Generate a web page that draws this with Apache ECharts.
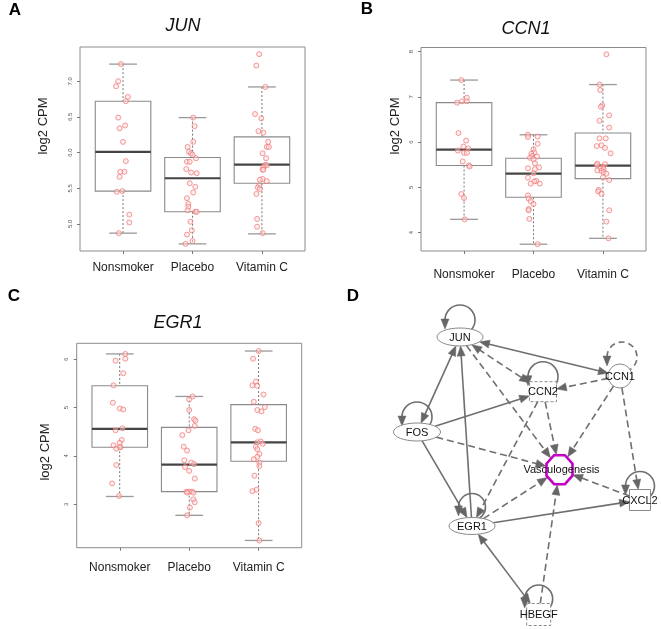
<!DOCTYPE html>
<html><head><meta charset="utf-8">
<script src="https://cdn.jsdelivr.net/npm/echarts@6/dist/echarts.min.js"></script>
<style>html,body{margin:0;padding:0;background:#fff}#c{width:661px;height:629px}</style>
</head><body><div id="c"></div>
<script>
const categories = ['Nonsmoker', 'Placebo', 'Vitamin C'];

// box statistics per group: [lower whisker, Q1, median, Q3, upper whisker]
const junStats  = [[4.87, 5.46, 6.01, 6.72, 7.24], [4.72, 5.17, 5.64, 5.93, 6.49], [4.86, 5.57, 5.83, 6.22, 6.92]];
const ccn1Stats = [[4.29, 5.48, 5.83, 6.87, 7.37], [3.74, 4.78, 5.30, 5.64, 6.16], [3.87, 5.19, 5.48, 6.20, 7.27]];
const egr1Stats = [[3.16, 4.18, 4.56, 5.45, 6.11], [2.77, 3.26, 3.82, 4.59, 5.23], [2.25, 3.89, 4.28, 5.06, 6.17]];

// individual sample values (log2 CPM) and their horizontal jitter (category units)
const junNonsmoker = [7.24,7.00,6.93,6.78,6.72,6.49,6.38,6.34,6.15,5.88,5.73,5.73,5.66,5.46,5.45,5.13,5.02,4.87];
const junNonsmokerJit = [-0.03,-0.07,-0.10,0.07,0.04,-0.07,0.03,-0.05,0,0.04,0.02,-0.04,-0.05,-0.01,-0.09,0.09,0.09,-0.06];
const junPlacebo = [6.49,6.37,6.15,6.08,6.01,5.99,5.97,5.92,5.87,5.87,5.77,5.72,5.71,5.57,5.52,5.44,5.36,5.28,5.24,5.19,5.17,5.17,5.03,4.91,4.85,4.76,4.72];
const junPlaceboJit = [0.01,0.03,0.01,-0.07,-0.05,-0.02,0,0.05,-0.08,-0.04,-0.09,-0.02,0.06,-0.04,0.04,0.01,-0.08,-0.06,-0.06,-0.07,0.04,0.06,-0.03,-0.01,-0.08,0,-0.10];
const junVitC = [7.38,7.22,6.92,6.54,6.48,6.30,6.28,6.15,6.08,6.08,5.99,5.92,5.83,5.82,5.80,5.76,5.76,5.63,5.62,5.60,5.54,5.51,5.49,5.42,5.07,4.96,4.87];
const junVitCJit = [-0.04,-0.08,0.05,-0.10,-0.01,-0.05,0.02,0.09,0.07,0.10,0.01,0.06,0.05,0.07,0.02,0.01,0.02,0.01,-0.03,0.07,-0.04,-0.06,-0.03,-0.08,-0.07,-0.07,0.01];

const ccn1Nonsmoker = [7.37,6.87,6.90,6.98,6.90,6.20,6.03,5.90,5.86,5.81,5.76,5.76,5.57,5.48,5.46,4.85,4.76,4.29];
const ccn1NonsmokerJit = [-0.04,-0.10,-0.03,0.04,0.04,-0.08,0.03,-0.01,0.06,-0.09,0,0.04,-0.02,0.07,0.08,-0.04,0,0.01];
const ccn1Placebo = [6.16,6.12,6.11,5.96,5.84,5.77,5.74,5.69,5.68,5.65,5.62,5.53,5.44,5.42,5.40,5.31,5.21,5.14,5.13,5.08,5.08,4.82,4.75,4.69,4.63,4.52,4.49,4.30,3.74];
const ccn1PlaceboJit = [-0.08,0.06,-0.08,0.06,0,0.01,-0.03,-0.02,0.05,-0.05,0,0.02,0.08,-0.08,0.02,0,-0.08,0.04,0.01,-0.04,0.09,-0.08,-0.07,-0.04,0,-0.07,-0.07,-0.06,0.06];
const ccn1VitC = [7.94,7.27,7.15,6.81,6.78,6.59,6.47,6.32,6.08,6.08,5.93,5.91,5.87,5.75,5.52,5.51,5.49,5.44,5.42,5.40,5.37,5.36,5.33,5.30,5.22,5.16,4.94,4.91,4.85,4.49,4.24,3.87];
const ccn1VitCJit = [0.05,-0.05,-0.04,-0.01,-0.03,0.09,-0.05,0.09,-0.05,0.04,-0.02,-0.09,0.03,0.11,-0.08,0.03,-0.09,0,-0.03,0.01,-0.08,-0.02,0.01,0.05,0,0.09,-0.06,-0.07,-0.02,0.09,0.05,0.08];

const egr1Nonsmoker = [6.11,6.01,5.97,5.71,5.46,5.10,4.98,4.96,4.57,4.53,4.33,4.27,4.22,4.18,4.18,4.15,3.81,3.43,3.17];
const egr1NonsmokerJit = [0.08,0.08,-0.06,0.05,-0.09,-0.10,0,0.05,0.04,-0.06,0.03,0,-0.09,0.01,0,-0.05,-0.05,-0.11,-0.01];
const egr1Placebo = [5.23,5.17,4.95,4.76,4.73,4.62,4.53,4.43,4.19,4.11,3.91,3.86,3.83,3.77,3.69,3.53,3.26,3.26,3.26,3.24,3.24,3.10,3.04,2.93,2.77];
const egr1PlaceboJit = [0.05,0,0,0.07,0.09,0.08,-0.01,-0.10,-0.08,-0.03,-0.07,0.03,0.07,-0.06,0,0.08,-0.04,0,0.04,0.06,-0.03,0.06,0.08,0.01,-0.03];
const egr1VitC = [6.17,6.01,5.54,5.46,5.45,5.27,5.12,5.01,4.95,4.92,4.56,4.53,4.30,4.28,4.25,4.19,4.14,4.04,3.98,3.93,3.86,3.79,3.59,3.30,3.27,2.61,2.25];
const egr1VitCJit = [0,-0.08,-0.04,-0.09,-0.02,0.07,-0.07,0.09,-0.02,0.04,-0.05,-0.01,0.03,-0.02,0.06,-0.04,-0.02,0.01,-0.02,-0.07,0.01,0.01,-0.06,-0.03,-0.09,0,0.01];

// y tick labels
const junTicks = [5.0, 5.5, 6.0, 6.5, 7.0];
const ccn1Ticks = [4, 5, 6, 7, 8];
const egr1Ticks = [3, 4, 5, 6];

// network (panel D)
const nodeNames = ['JUN', 'CCN1', 'CCN2', 'FOS', 'Vasculogenesis', 'CXCL2', 'EGR1', 'HBEGF'];
const nodeX = [460, 620, 543, 417, 559.5, 640, 472, 538.7];
const nodeY = [337, 376, 391.7, 432, 469.7, 500, 526, 614.5];
const edgeFrom = ['JUN','JUN','JUN','FOS','EGR1','FOS','FOS','FOS','CCN1','CCN1','CCN1','CCN2','CCN2','EGR1','EGR1','CXCL2','EGR1','HBEGF'];
const edgeTo   = ['CCN1','CCN2','Vasculogenesis','JUN','JUN','CCN2','Vasculogenesis','EGR1','CCN2','Vasculogenesis','CXCL2','Vasculogenesis','EGR1','Vasculogenesis','CXCL2','Vasculogenesis','HBEGF','Vasculogenesis'];
const edgeDashed = [0,1,1,0,0,0,1,0,1,1,1,1,1,1,0,1,0,1];
const edgeBoth   = [1,1,0,1,0,0,0,0,0,0,0,0,0,0,0,0,1,0];
const selfLoops = ['JUN', 'CCN1', 'CCN2', 'FOS', 'EGR1', 'CXCL2', 'HBEGF'];
const selfLoopDashed = [0, 1, 0, 0, 0, 0, 0];

// ---------- styles ----------
const nodeStyle = {
  'JUN': {t: 'ellipse', rx: 23, ry: 9},
  'CCN1': {t: 'circle', r: 12},
  'CCN2': {t: 'rect', hw: 13.5, hh: 10, dash: true},
  'FOS': {t: 'ellipse', rx: 23.5, ry: 9},
  'Vasculogenesis': {t: 'oct', rx: 13, ry: 14.5},
  'CXCL2': {t: 'rect', hw: 10.5, hh: 10.5},
  'EGR1': {t: 'ellipse', rx: 23, ry: 8.5},
  'HBEGF': {t: 'rect', hw: 12, hh: 11, dash: true}
};
const loopStyle = {
  'JUN': [0, -17, 15], 'CCN1': [2, -19, 15], 'CCN2': [0, -15, 15], 'FOS': [0, -15, 15],
  'EGR1': [0, -19, 13.5], 'CXCL2': [0, -14, 14.5], 'HBEGF': [0, -15.5, 14]
};
const EDGE = '#6f6f6f';

const panels = [
  {title: 'JUN', letter: 'A', stats: junStats, vals: [junNonsmoker, junPlacebo, junVitC], jit: [junNonsmokerJit, junPlaceboJit, junVitCJit],
   ticks: junTicks, dec: 1, ymin: 4.62, ymax: 7.48, grid: {left: 80, top: 47, width: 225, height: 204}, lm: 11,
   titlePos: [183, 26], letterPos: [15, 10], ylabPos: [43, 126]},
  {title: 'CCN1', letter: 'B', stats: ccn1Stats, vals: [ccn1Nonsmoker, ccn1Placebo, ccn1VitC], jit: [ccn1NonsmokerJit, ccn1PlaceboJit, ccn1VitCJit],
   ticks: ccn1Ticks, dec: 0, ymin: 3.59, ymax: 8.09, grid: {left: 421, top: 47.5, width: 225, height: 203.5}, lm: 18,
   titlePos: [526, 29], letterPos: [367, 9], ylabPos: [395, 126]},
  {title: 'EGR1', letter: 'C', stats: egr1Stats, vals: [egr1Nonsmoker, egr1Placebo, egr1VitC], jit: [egr1NonsmokerJit, egr1PlaceboJit, egr1VitCJit],
   ticks: egr1Ticks, dec: 0, ymin: 2.10, ymax: 6.33, grid: {left: 76.7, top: 343.3, width: 225, height: 204.4}, lm: 14,
   titlePos: [178, 323], letterPos: [14, 296], ylabPos: [45, 452]}
];

function boxRender(params, api) {
  const i = api.value(0);
  const lo = api.coord([i, api.value(1)]), q1 = api.coord([i, api.value(2)]), md = api.coord([i, api.value(3)]),
        q3 = api.coord([i, api.value(4)]), hi = api.coord([i, api.value(5)]);
  const bl = api.coord([i - 0.4, 0])[0], br = api.coord([i + 0.4, 0])[0];
  const cl = api.coord([i - 0.2, 0])[0], cr = api.coord([i + 0.2, 0])[0];
  const x = md[0];
  const wh = {stroke: '#555', lineWidth: 0.8, lineDash: [2, 2]};
  const cap = {stroke: '#9a9a9a', lineWidth: 1.3};
  return {type: 'group', children: [
    {type: 'line', shape: {x1: x, y1: hi[1], x2: x, y2: q3[1]}, style: wh},
    {type: 'line', shape: {x1: x, y1: q1[1], x2: x, y2: lo[1]}, style: wh},
    {type: 'line', shape: {x1: cl, y1: hi[1], x2: cr, y2: hi[1]}, style: cap},
    {type: 'line', shape: {x1: cl, y1: lo[1], x2: cr, y2: lo[1]}, style: cap},
    {type: 'rect', shape: {x: bl, y: q3[1], width: br - bl, height: q1[1] - q3[1]}, style: {fill: 'none', stroke: '#8a8a8a', lineWidth: 1.1}},
    {type: 'line', shape: {x1: bl, y1: md[1], x2: br, y2: md[1]}, style: {stroke: '#444', lineWidth: 2.2}}
  ]};
}

const grids = [], xAxes = [], yAxes = [], series = [], graphics = [];
panels.forEach((p, g) => {
  grids.push(Object.assign({show: true, borderColor: '#8c8c8c', borderWidth: 1, backgroundColor: 'transparent'}, p.grid));
  xAxes.push({gridIndex: g, type: 'value', min: 0.38, max: 3.62, axisLine: {show: false}, splitLine: {show: false},
    axisTick: {show: true, customValues: [1, 2, 3], length: 3, lineStyle: {color: '#777'}},
    axisLabel: {customValues: [1, 2, 3], formatter: v => categories[Math.round(v) - 1], fontSize: 12, color: '#222',
      fontFamily: 'Liberation Sans', margin: p.lm}});
  yAxes.push({gridIndex: g, type: 'value', min: p.ymin, max: p.ymax, axisLine: {show: false}, splitLine: {show: false},
    axisTick: {show: true, customValues: p.ticks, length: 3, lineStyle: {color: '#777'}},
    axisLabel: {customValues: p.ticks, rotate: 90, fontSize: 6, color: '#555', margin: 7,
      formatter: v => Number(v).toFixed(p.dec)}});
  series.push({type: 'custom', xAxisIndex: g, yAxisIndex: g, renderItem: boxRender, silent: true, z: 2,
    encode: {x: 0, y: [1, 2, 3, 4, 5]}, data: p.stats.map((s, i) => [i + 1].concat(s))});
  const pts = [];
  p.vals.forEach((arr, i) => arr.forEach((v, k) => pts.push([i + 1 + p.jit[i][k], v])));
  series.push({type: 'scatter', xAxisIndex: g, yAxisIndex: g, data: pts, symbolSize: 5, silent: true, z: 3,
    itemStyle: {color: 'rgba(255,220,220,0.6)', borderColor: '#ee7272', borderWidth: 0.9}});
  graphics.push({type: 'text', x: p.titlePos[0], y: p.titlePos[1], style: {text: p.title, align: 'center', verticalAlign: 'middle',
    font: 'italic 18px "Liberation Sans", Arial', fill: '#111'}});
  graphics.push({type: 'text', x: p.letterPos[0], y: p.letterPos[1], style: {text: p.letter, align: 'center', verticalAlign: 'middle',
    font: 'bold 17px "Liberation Sans", Arial', fill: '#000'}});
  graphics.push({type: 'text', x: p.ylabPos[0], y: p.ylabPos[1], rotation: Math.PI / 2, style: {text: 'log2 CPM', align: 'center',
    verticalAlign: 'middle', font: '13px "Liberation Sans", Arial', fill: '#222'}});
});
graphics.push({type: 'text', x: 353, y: 296, style: {text: 'D', align: 'center', verticalAlign: 'middle',
  font: 'bold 17px "Liberation Sans", Arial', fill: '#000'}});

// ---------- network ----------
const G = 3;
grids.push({left: 330, top: 300, width: 331, height: 329, show: false});
xAxes.push({gridIndex: G, type: 'value', min: 330, max: 661, show: false});
yAxes.push({gridIndex: G, type: 'value', min: 300, max: 629, inverse: true, show: false});

function boundary(name, ux, uy) {
  const s = nodeStyle[name];
  if (s.t === 'circle') return s.r;
  if (s.t === 'rect') return Math.min(s.hw / Math.max(Math.abs(ux), 1e-6), s.hh / Math.max(Math.abs(uy), 1e-6));
  const rx = s.t === 'oct' ? s.rx + 1 : s.rx, ry = s.t === 'oct' ? s.ry + 1 : s.ry;
  return 1 / Math.sqrt((ux / rx) ** 2 + (uy / ry) ** 2);
}
function arrowHead(tx, ty, ux, uy, L, w) {
  const bx = tx - ux * L, by = ty - uy * L;
  return {type: 'polygon', shape: {points: [[tx, ty], [bx - uy * w, by + ux * w], [bx + uy * w, by - ux * w]]},
    style: {fill: '#666', stroke: '#666', lineWidth: 0.5}};
}
const idx = n => nodeNames.indexOf(n);
const edgeData = edgeFrom.map((f, k) => {
  const a = idx(f), b = idx(edgeTo[k]);
  return [nodeX[a], nodeY[a], nodeX[b], nodeY[b], a, b, edgeDashed[k], edgeBoth[k]];
});
series.push({type: 'custom', xAxisIndex: G, yAxisIndex: G, silent: true, z: 4, encode: {x: [0, 2], y: [1, 3]}, data: edgeData,
  renderItem: (params, api) => {
    const p1 = api.coord([api.value(0), api.value(1)]), p2 = api.coord([api.value(2), api.value(3)]);
    const a = nodeNames[api.value(4)], b = nodeNames[api.value(5)];
    const dashed = api.value(6) === 1, both = api.value(7) === 1;
    const dx = p2[0] - p1[0], dy = p2[1] - p1[1], len = Math.hypot(dx, dy);
    const ux = dx / len, uy = dy / len;
    const L = 10, W = 4;
    const da = boundary(a, ux, uy), db = boundary(b, -ux, -uy);
    const s = [p1[0] + ux * da, p1[1] + uy * da], e = [p2[0] - ux * db, p2[1] - uy * db];
    const ls = both ? [s[0] + ux * L * 0.8, s[1] + uy * L * 0.8] : s;
    const le = [e[0] - ux * L * 0.8, e[1] - uy * L * 0.8];
    const ch = [
      {type: 'line', shape: {x1: ls[0], y1: ls[1], x2: le[0], y2: le[1]},
        style: {stroke: EDGE, lineWidth: 1.6, lineDash: dashed ? [7, 4] : null}},
      arrowHead(e[0], e[1], ux, uy, L, W)
    ];
    if (both) ch.push(arrowHead(s[0], s[1], -ux, -uy, L, W));
    return {type: 'group', children: ch};
  }});

series.push({type: 'custom', xAxisIndex: G, yAxisIndex: G, silent: true, z: 3, encode: {x: 0, y: 1},
  data: selfLoops.map((n, k) => [nodeX[idx(n)], nodeY[idx(n)], k]),
  renderItem: (params, api) => {
    const k = api.value(2), n = selfLoops[k], ls = loopStyle[n];
    const c = api.coord([api.value(0), api.value(1)]);
    const cx = c[0] + ls[0], cy = c[1] + ls[1], r = ls[2];
    return {type: 'group', children: [
      {type: 'arc', shape: {cx: cx, cy: cy, r: r, startAngle: Math.PI, endAngle: Math.PI * 2.45, clockwise: true},
        style: {fill: 'none', stroke: EDGE, lineWidth: 1.6, lineDash: selfLoopDashed[k] ? [6, 4] : null}},
      arrowHead(cx - r, cy + 9, 0, 1, 10, 4)
    ]};
  }});

series.push({type: 'custom', xAxisIndex: G, yAxisIndex: G, silent: true, z: 5, encode: {x: 0, y: 1},
  data: nodeNames.map((n, k) => [nodeX[k], nodeY[k], k]),
  renderItem: (params, api) => {
    const n = nodeNames[api.value(2)], s = nodeStyle[n];
    const c = api.coord([api.value(0), api.value(1)]);
    let shape;
    const st = {fill: '#fff', stroke: '#8a8a8a', lineWidth: 1};
    if (s.t === 'ellipse') shape = {type: 'ellipse', shape: {cx: c[0], cy: c[1], rx: s.rx, ry: s.ry}, style: st};
    else if (s.t === 'circle') shape = {type: 'circle', shape: {cx: c[0], cy: c[1], r: s.r}, style: st};
    else if (s.t === 'rect') shape = {type: 'rect', shape: {x: c[0] - s.hw, y: c[1] - s.hh, width: 2 * s.hw, height: 2 * s.hh},
      style: Object.assign({}, st, {lineDash: s.dash ? [3, 2] : null})};
    else {
      const pts = [];
      const ca = Math.cos(Math.PI / 8);
      for (let j = 0; j < 8; j++) {
        const ang = Math.PI / 8 + j * Math.PI / 4;
        pts.push([c[0] + s.rx / ca * Math.cos(ang), c[1] + s.ry / ca * Math.sin(ang)]);
      }
      shape = {type: 'polygon', shape: {points: pts}, style: {fill: 'none', stroke: '#c400c4', lineWidth: 2.6}};
    }
    return {type: 'group', children: [shape,
      {type: 'text', style: {text: n, x: c[0] + (n === 'Vasculogenesis' ? 2 : 0), y: c[1] + 0.5, align: 'center', verticalAlign: 'middle',
        font: '11px "Liberation Sans", Arial', fill: '#111'}}]};
  }});

const chart = echarts.init(document.getElementById('c'));
chart.setOption({
  animation: false,
  backgroundColor: '#fff',
  grid: grids, xAxis: xAxes, yAxis: yAxes, series: series,
  graphic: graphics
});
</script></body></html>
